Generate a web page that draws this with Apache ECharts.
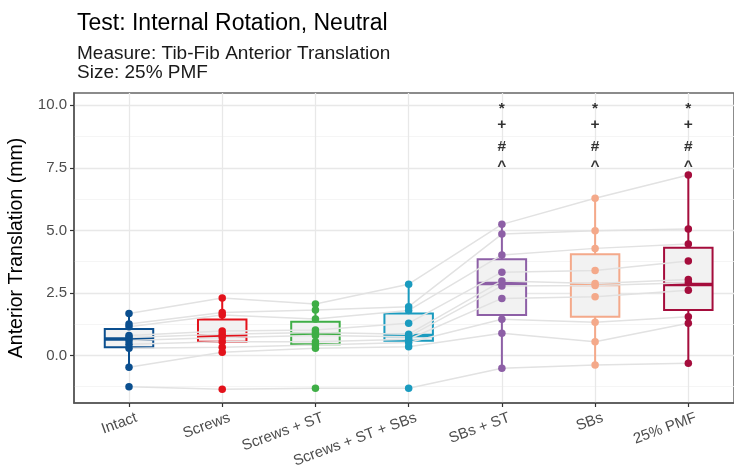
<!DOCTYPE html>
<html>
<head>
<meta charset="utf-8">
<script src="https://cdn.jsdelivr.net/npm/echarts@6/dist/echarts.min.js"></script>
<style>
html,body{margin:0;padding:0;background:#fff;}
#chart{width:734px;height:465px;}
</style>
</head>
<body>
<div id="chart"></div>
<script>
// ---- Data ----
const categories = ['Intact', 'Screws', 'Screws + ST', 'Screws + ST + SBs', 'SBs + ST', 'SBs', '25% PMF'];
const colors = ['#0b4f8f', '#e3121b', '#3fae46', '#1a9bbf', '#8d5fa6', '#f4a98a', '#a50d3c'];

// per-specimen values (10 specimens) for each condition
const intact      = [-1.25, -0.47, 0.29, 0.45, 0.60, 0.72, 0.80, 1.15, 1.26, 1.68];
const screws      = [-1.35, 0.13, 0.33, 0.55, 0.72, 0.85, 0.98, 1.62, 1.72, 2.30];
const screwsST    = [-1.31, 0.29, 0.42, 0.55, 0.80, 0.92, 1.02, 1.46, 1.82, 2.06];
const screwsSTSBs = [-1.31, 0.35, 0.52, 0.65, 0.75, 0.85, 1.29, 1.80, 1.95, 2.85];
const sbsST       = [-0.51, 0.89, 1.45, 2.28, 2.78, 2.98, 3.33, 4.02, 4.85, 5.24];
const sbs         = [-0.38, 0.55, 1.33, 2.35, 2.80, 2.88, 3.40, 4.28, 4.98, 6.28];
const pmf         = [-0.31, 1.29, 1.55, 2.61, 2.91, 3.04, 3.78, 4.45, 5.05, 7.21];

// box statistics: lower whisker, Q1, median, Q3, upper whisker
const boxLow  = [-0.47, 0.13, 0.29, 0.35, -0.51, -0.38, -0.31];
const boxQ1   = [0.33, 0.55, 0.45, 0.59, 1.62, 1.55, 1.82];
const boxMed  = [0.66, 0.78, 0.86, 0.80, 2.88, 2.84, 2.84];
const boxQ3   = [1.06, 1.44, 1.35, 1.68, 3.85, 4.05, 4.30];
const boxHigh = [1.68, 2.30, 2.06, 2.85, 5.24, 6.28, 7.21];

// significance markers
const sigSymbols = ['*', '+', '#', '^'];
const sigY = [9.86, 9.23, 8.36, 7.55];
const sigCats = [5, 6, 7];

// ticks
const yTicks = [0, 2.5, 5, 7.5, 10];
const yMinor = [-1.25, 1.25, 3.75, 6.25, 8.75];
const xTicks = [1, 2, 3, 4, 5, 6, 7];

// ---- Build ----
const conditions = [intact, screws, screwsST, screwsSTSBs, sbsST, sbs, pmf];
const FONT = '"Liberation Sans", Arial, sans-serif';

const gridLines = [];
yMinor.forEach(v => gridLines.push({yAxis: v, lineStyle: {color: '#f3f3f3', width: 0.8, type: 'solid'}}));
yTicks.forEach(v => gridLines.push({yAxis: v, lineStyle: {color: '#e8e8e8', width: 1.3, type: 'solid'}}));
xTicks.forEach(v => gridLines.push({xAxis: v, lineStyle: {color: '#e8e8e8', width: 1.3, type: 'solid'}}));

const series = [];
series.push({
  type: 'line', data: [], z: 0, silent: true,
  markLine: {z: 0, silent: true, symbol: ['none', 'none'], label: {show: false}, animation: false, data: gridLines}
});

series.push({
  type: 'custom', z: 2, silent: true,
  data: categories.map((c, i) => [i + 1, boxLow[i], boxQ1[i], boxMed[i], boxQ3[i], boxHigh[i]]),
  encode: {x: 0, y: [1, 2, 3, 4, 5]},
  renderItem: function (params, api) {
    const x = api.value(0);
    const lo = api.coord([x, api.value(1)]);
    const q1 = api.coord([x, api.value(2)]);
    const md = api.coord([x, api.value(3)]);
    const q3 = api.coord([x, api.value(4)]);
    const hi = api.coord([x, api.value(5)]);
    const hw = api.size([0.26, 0])[0];
    const col = colors[params.dataIndex];
    return {
      type: 'group',
      children: [
        {type: 'line', shape: {x1: lo[0], y1: lo[1], x2: q1[0], y2: q1[1]}, style: {stroke: col, lineWidth: 2}},
        {type: 'line', shape: {x1: q3[0], y1: q3[1], x2: hi[0], y2: hi[1]}, style: {stroke: col, lineWidth: 2}},
        {type: 'rect', shape: {x: q3[0] - hw, y: q3[1], width: 2 * hw, height: q1[1] - q3[1]},
          style: {fill: '#f2f2f2', stroke: col, lineWidth: 2}},
        {type: 'line', shape: {x1: md[0] - hw, y1: md[1], x2: md[0] + hw, y2: md[1]}, style: {stroke: col, lineWidth: 3.5}}
      ]
    };
  }
});

for (let s = 0; s < intact.length; s++) {
  series.push({
    type: 'line', z: 3, silent: true, symbol: 'none',
    lineStyle: {color: '#e2e2e2', width: 1.5},
    data: conditions.map((arr, i) => [i + 1, arr[s]])
  });
}

conditions.forEach((arr, i) => {
  series.push({
    type: 'scatter', z: 5, silent: true, symbolSize: 7.5,
    itemStyle: {color: colors[i], opacity: 1},
    data: arr.map(v => [i + 1, v])
  });
});

const sigData = [];
sigCats.forEach(c => sigSymbols.forEach((sym, j) => sigData.push({name: sym, value: [c, sigY[j]]})));
series.push({
  type: 'scatter', z: 6, silent: true, symbolSize: 1,
  itemStyle: {color: 'rgba(0,0,0,0)'},
  label: {show: true, position: 'inside', formatter: p => p.name, color: '#000',
    fontSize: 15.5, fontWeight: 'bold', fontFamily: FONT},
  data: sigData
});

const chart = echarts.init(document.getElementById('chart'), null, {renderer: 'canvas'});
chart.setOption({
  animation: false,
  backgroundColor: '#fff',
  title: [
    {text: 'Test: Internal Rotation, Neutral', left: 72, top: 7,
      textStyle: {fontFamily: FONT, fontSize: 23, fontWeight: 'normal', color: '#000'}},
    {text: 'Measure: Tib-Fib Anterior Translation\nSize: 25% PMF', left: 72, top: 39,
      textStyle: {fontFamily: FONT, fontSize: 19, fontWeight: 'normal', color: '#1a1a1a', lineHeight: 19.5}}
  ],
  grid: {left: 74, right: 0, top: 93, bottom: 62, show: true, borderColor: '#666', borderWidth: 1.5,
    backgroundColor: 'transparent', containLabel: false, outerBoundsMode: 'none'},
  xAxis: {
    type: 'value', min: 0.41, max: 7.49,
    axisLine: {show: true, onZero: false, lineStyle: {color: '#555', width: 1.5}},
    axisTick: {show: true, length: 4, customValues: xTicks, lineStyle: {color: '#333', width: 1.2}},
    axisLabel: {show: true, customValues: xTicks, rotate: 20, margin: 17, padding: [0, -8, 0, 0],
      color: '#4d4d4d', fontSize: 15, fontFamily: FONT,
      formatter: v => categories[Math.round(v) - 1]},
    splitLine: {show: false}
  },
  yAxis: {
    type: 'value', min: -1.9, max: 10.49,
    name: 'Anterior Translation (mm)', nameLocation: 'middle', nameGap: 47,
    nameTextStyle: {fontFamily: FONT, fontSize: 19.5, color: '#000'},
    axisLine: {show: true, onZero: false, lineStyle: {color: '#555', width: 1.5}},
    axisTick: {show: true, length: 4, customValues: yTicks, lineStyle: {color: '#333', width: 1.2}},
    axisLabel: {show: true, customValues: yTicks, margin: 7, color: '#4d4d4d', fontSize: 15, fontFamily: FONT,
      formatter: v => v.toFixed(1)},
    splitLine: {show: false}
  },
  series: series
});
</script>
</body>
</html>
